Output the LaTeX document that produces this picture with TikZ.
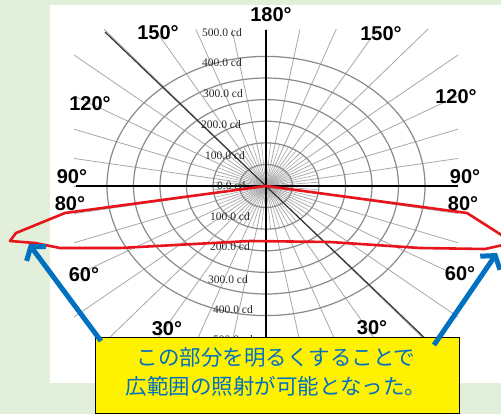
\documentclass[tikz,border=0pt]{standalone}
\usepackage{fontspec}
\setmainfont{Liberation Sans}
\newfontfamily\cjk{Noto Sans CJK JP}
\newfontfamily\cdfont{Liberation Serif}
\usetikzlibrary{arrows.meta}
\definecolor{bggreen}{HTML}{E2EFDA}
\definecolor{gridgray}{HTML}{8A8A8A}
\definecolor{raygray}{HTML}{A8A8A8}
\definecolor{mblue}{HTML}{0070C0}
\definecolor{mred}{HTML}{E8141B}
\tikzset{
  ringline/.style={draw=gridgray, line width=1.2pt},
  rayline/.style={draw=raygray, line width=0.8pt},
  axisline/.style={draw=black, line width=2pt},
  anglab/.style={font=\fontsize{20}{22}\selectfont\bfseries, text=black, inner sep=0pt},
  cdlab/.style={font=\cdfont\fontsize{11.5}{12}\selectfont, text=black!85, inner sep=0pt, anchor=west},
  redcurve/.style={draw=mred, line width=2.6pt, line join=round, line cap=round},
  bluearrow/.style={draw=mblue, line width=5pt, -{Straight Barb[length=9pt,width=24pt]}},
  notebox/.style={draw=black, line width=1pt, fill=yellow, minimum width=364pt, minimum height=76pt, inner sep=0pt}
}
\begin{document}
\begin{tikzpicture}[x=1pt,y=-1pt]
\useasboundingbox (0,0) rectangle (501,414);
\fill[bggreen] (0,0) rectangle (501,414);
\fill[white] (50,5) rectangle (501,383);
\coordinate (C) at (266,186);
% radial lines
\begin{scope}
  \clip (74,30) rectangle (458,345);
  \foreach \a in {0,10,...,350}
    \draw[rayline] (C) -- ++({1.23*sin(\a)*420},{cos(\a)*420});
  \foreach \a in {5,15,...,355}
    \draw[rayline, line width=0.6pt] (C) -- ++({53*sin(\a)},{43.2*cos(\a)});
\end{scope}
% rings
\foreach \k in {1,...,6}
  \draw[ringline] (C) ellipse [x radius=\k*26.5pt, y radius=\k*21.6pt];
% axes
\coordinate (hL) at (76,186);
\coordinate (hR) at (458,186);
\coordinate (vT) at (266,30);
\coordinate (vB) at (266,345);
\coordinate (dT) at (105,32);
\coordinate (dB) at (432,345);
\draw[axisline] (hL) -- (hR);
\draw[axisline] (vT) -- (vB);
\draw[draw=black!80, line width=1.2pt] (dT) -- (dB);
% cd labels
\node[cdlab] (c500) at (202,33) {500.0 cd};
\node[cdlab] (c400) at (202,63) {400.0 cd};
\node[cdlab] (c300) at (203,94) {300.0 cd};
\node[cdlab] (c200) at (201,125) {200.0 cd};
\node[cdlab] (c100) at (205,156) {100.0 cd};
\node[cdlab] (c0) at (217,186) {0.0 cd};
\node[cdlab] (d100) at (210,217) {100.0 cd};
\node[cdlab] (d200) at (210,247) {200.0 cd};
\node[cdlab] (d300) at (208,280) {300.0 cd};
\node[cdlab] (d400) at (213,310) {400.0 cd};
\node[cdlab] (d500) at (213,340) {500.0 cd};
% angle labels
\node[anglab] (a180) at (271,15) {180°};
\node[anglab] (a150l) at (158,33) {150°};
\node[anglab] (a150r) at (381,34) {150°};
\node[anglab] (a120l) at (90,104) {120°};
\node[anglab] (a120r) at (456,97) {120°};
\node[anglab] (a90l) at (72,177) {90°};
\node[anglab] (a80l) at (70,204) {80°};
\node[anglab] (a90r) at (465,177) {90°};
\node[anglab] (a80r) at (463,204) {80°};
\node[anglab] (a60l) at (84,275) {60°};
\node[anglab] (a60r) at (460,274) {60°};
\node[anglab] (a30l) at (167,329) {30°};
\node[anglab] (a30r) at (372,328) {30°};
% red light distribution curve
\draw[redcurve] (C) -- (467,213) -- (503,236) -- (503,245) -- (485,249) -- (420,248)
  -- (330,242) -- (250,241) -- (120,248) -- (60,248) -- (35,243) -- (10,241)
  -- (16,233) -- (65,213) -- cycle;
% note box
\node[notebox] (box) at (277,375) {};
\node[text=mblue, font=\cjk\fontsize{21.5}{29}\selectfont, align=center, inner sep=0pt] (note) at (276,372)
  {この部分を明るくすることで\\広範囲の照射が可能となった。};
% arrows
\coordinate (sL) at (101,341);
\coordinate (tL) at (29,244);
\coordinate (sR) at (434,345);
\coordinate (tR) at (497,253);
\draw[bluearrow] (sL) -- (tL);
\draw[bluearrow] (sR) -- (tR);
\end{tikzpicture}
\end{document}
